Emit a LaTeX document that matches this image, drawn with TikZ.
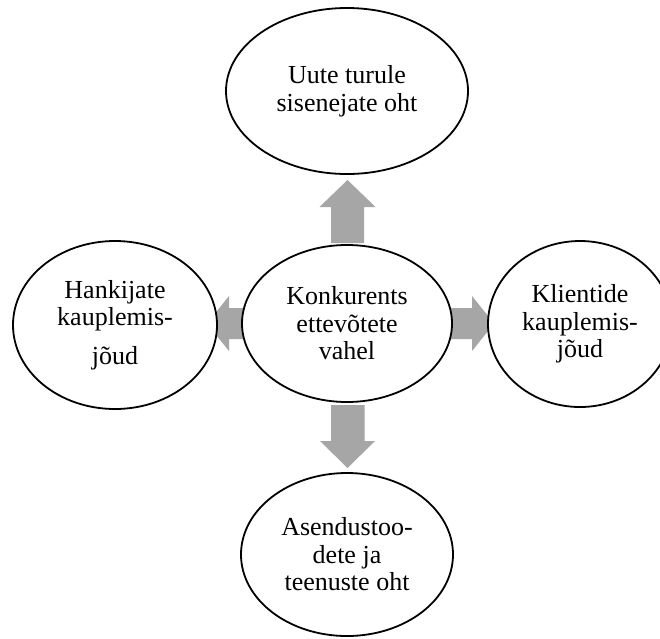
\documentclass[tikz,border=0pt]{standalone}
\usepackage{fontspec}
\setmainfont{Liberation Serif}
\usetikzlibrary{shapes.geometric}
\definecolor{arrowgray}{RGB}{166,166,166}
\begin{document}
\begin{tikzpicture}[x=1pt,y=-1pt,
  force/.style={ellipse, draw=black, line width=1.8pt, fill=white,
    inner sep=0pt, align=center, font=\fontsize{26}{27.5}\selectfont},
  blockarrow/.style={fill=arrowgray, draw=none}]
\clip (0,0) rectangle (660,638);
\fill[white] (0,0) rectangle (660,638);

% block arrows first, so the ellipses cover their ends
\fill[blockarrow] (331,243) -- (331,207) -- (319.5,207) -- (347.5,180)
  -- (375.5,207) -- (364,207) -- (364,243) -- cycle;
\fill[blockarrow] (331,405) -- (331,441) -- (320,441) -- (347.5,468)
  -- (375,441) -- (364.5,441) -- (364.5,405) -- cycle;
\fill[blockarrow] (440,308) -- (472,308) -- (472,296) -- (494,323.5)
  -- (472,351) -- (472,339) -- (440,339) -- cycle;
\fill[blockarrow] (255,308) -- (229,308) -- (229,296) -- (207,323.5)
  -- (229,351) -- (229,339) -- (255,339) -- cycle;

% the five forces
\node[force, minimum width=242pt, minimum height=166pt] (entrants) at (347,91)
  {Uute turule\\sisenejate oht};
\node[force, minimum width=210pt, minimum height=157pt] (rivalry) at (347,323.5)
  {Konkurents\\ettevõtete\\vahel};
\node[force, minimum width=204pt, minimum height=168pt] (suppliers) at (115,325)
  {Hankijate\\kauplemis-\\[11pt]jõud};
\node[force, minimum width=184pt, minimum height=166pt] (buyers) at (580,324)
  {Klientide\\kauplemis-\\jõud};
\node[force, minimum width=212pt, minimum height=163pt] (substitutes) at (347,554.5)
  {Asendustoo-\\dete ja\\teenuste oht};
\end{tikzpicture}
\end{document}
